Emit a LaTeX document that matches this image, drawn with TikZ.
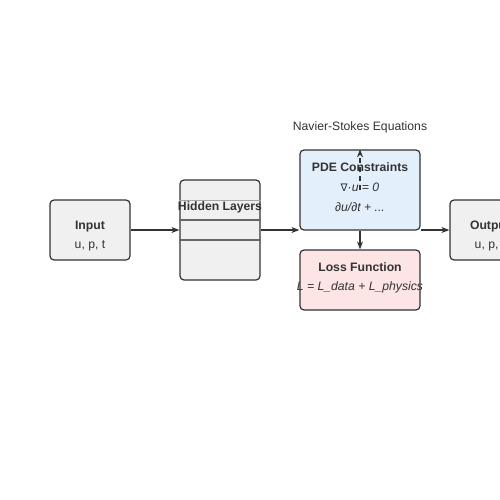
\documentclass[tikz,border=0pt]{standalone}
\usepackage{fontspec}
\setmainfont{Liberation Sans}
\newfontfamily\symfont{DejaVu Sans}
\usetikzlibrary{arrows.meta}
\begin{document}
\begin{tikzpicture}[x=1pt,y=-1pt,
  box/.style={draw=black!80,line width=1.2pt,rounded corners=4pt,fill=black!6},
  ttl/.style={font=\bfseries\fontsize{12.2}{14}\selectfont,text=black!80,inner sep=0pt},
  sub/.style={font=\fontsize{12.2}{14}\selectfont,text=black!80,inner sep=0pt},
  eq/.style={font=\itshape\fontsize{12.2}{14}\selectfont,text=black!80,inner sep=0pt},
  conn/.style={draw=black!80,line width=1.2pt,-{Stealth[length=8pt,width=6pt]}}]
\useasboundingbox (0,0) rectangle (500,500);
\clip (0,0) rectangle (500,500);
% boxes
\node[box,minimum width=80pt,minimum height=60pt,inner sep=0pt] (in) at (90,230) {};
\node[box,minimum width=80pt,minimum height=100pt,inner sep=0pt] (hid) at (220,230) {};
\node[box,fill={rgb,255:red,227;green,240;blue,252},minimum width=120pt,minimum height=80pt,inner sep=0pt] (pde) at (360,190) {};
\node[box,fill={rgb,255:red,253;green,228;blue,229},minimum width=120pt,minimum height=60pt,inner sep=0pt] (loss) at (360,280) {};
\node[box,minimum width=80pt,minimum height=60pt,inner sep=0pt] (out) at (490,230) {};
% hidden layer lines
\draw[black!35,line width=1pt] (hid.west |- 0,200) -- (hid.east |- 0,200);
\draw[black!60,line width=1.2pt] (hid.west |- 0,220) -- (hid.east |- 0,220);
\draw[black!60,line width=1.2pt] (hid.west |- 0,240) -- (hid.east |- 0,240);
% texts
\node[ttl] (inT) at (90,227) {Input};
\node[sub] (inS) at (90,246) {u, p, t};
\node[ttl] (hidT) at (220,207) {Hidden Layers};
\node[ttl] (pdeT) at (360,167) {PDE Constraints};
\node[eq] (pdeA) at (360,187) {{\upshape\symfont\fontsize{10.5}{12}\selectfont ∇}·u = 0};
\node[eq] (pdeB) at (360,207) {∂u/∂t + ...};
\node[ttl] (lossT) at (360,267) {Loss Function};
\node[eq] (lossE) at (360,287) {L = L\_data + L\_physics};
\node[ttl] (outT) at (490,227) {Output};
\node[sub] (outS) at (490,246) {u, p, t};
\node[sub] (ns) at (360,127) {Navier-Stokes Equations};
% connectors
\draw[conn] (in.east) -- (hid.west);
\draw[conn] (hid.east) -- (pde.west |- hid.east);
\draw[conn] (pde.east |- out.west) -- (out.west);
\draw[conn] (pde.south) -- (loss.north);
\coordinate (dstart) at (360,190);
\draw[conn,dashed,dash pattern=on 5pt off 4pt] (dstart) -- (pde.north);
\end{tikzpicture}
\end{document}
